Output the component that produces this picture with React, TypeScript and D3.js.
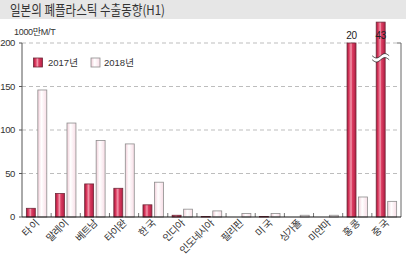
import React from "react";
import * as d3 from "d3";

const categories = ["타 이", "말레이", "베트남", "타이완", "한 국", "인디아", "인도네시아", "필리핀", "미 국", "싱가폴", "미얀마", "홍 콩", "중 국"];
const values2017 = [10, 27, 38, 33, 14, 2, 0.6, 0, 0.6, 0, 0, 200, 432];
const values2018 = [146, 108, 88, 84, 40, 9, 7, 4, 4, 2, 2, 23, 18];
const overLabels = ["", "", "", "", "", "", "", "", "", "", "", "20", "43"];
const yTicks = [0, 50, 100, 150, 200];
const seriesNames = ["2017년", "2018년"];
const title = "일본의 폐플라스틱 수출동향(H1)";
const unitLabel = "1000만M/T";
const displayMax = 224;

const W = 406;
const H = 265;
const m = { left: 22, right: 5, top: 43, bottom: 48 };

export default function App() {
  const x = d3.scaleBand<string>().domain(categories).range([m.left, W - m.right]).paddingInner(0).paddingOuter(0);
  const y = d3.scaleLinear().domain([0, 200]).range([H - m.bottom, m.top]);
  const sub = d3.scaleBand<string>().domain(["a", "b"]).range([0, x.bandwidth()]).paddingInner(0.22).paddingOuter(0.38);
  const bw = sub.bandwidth();
  const y0 = y(0);
  const font = "'Liberation Sans', Arial, 'Noto Sans CJK KR', sans-serif";
  const kfont = "'Noto Sans CJK KR', 'Liberation Sans', sans-serif";
  const chinaIdx = categories.length - 1;
  const chinaX = (x(categories[chinaIdx]) as number) + (sub("a") as number);
  const breakY = y(183);
  const wave = (off: number) => {
    const pts: [number, number][] = [];
    for (let i = 0; i <= 20; i++) {
      const px = chinaX - 4 + ((bw + 8) * i) / 20;
      pts.push([px, breakY + off + 2.2 * Math.sin((i / 20) * Math.PI * 2)]);
    }
    return pts;
  };
  const line = d3.line();
  const w1 = wave(-2);
  const w2 = wave(2);
  const band = line([...w1, ...w2.slice().reverse()]) + "Z";

  return (
    <svg width={W} height={H} style={{ position: "absolute", left: 0, top: 0, background: "#fff" }}>
      <defs>
        <linearGradient id="g17" x1="0" x2="1" y1="0" y2="0">
          <stop offset="0" stopColor="#a8173a" />
          <stop offset="0.2" stopColor="#d8345a" />
          <stop offset="0.45" stopColor="#f39aae" />
          <stop offset="0.6" stopColor="#dc3d62" />
          <stop offset="1" stopColor="#b01d42" />
        </linearGradient>
        <linearGradient id="g18" x1="0" x2="1" y1="0" y2="0">
          <stop offset="0" stopColor="#f3cfda" />
          <stop offset="0.4" stopColor="#ffffff" />
          <stop offset="1" stopColor="#f8dde6" />
        </linearGradient>
      </defs>
      <rect x={0} y={0} width={W} height={19} fill="#e6e6e6" />
      <text x={10} y={15} fontFamily={kfont} fontSize={13.5} fill="#333" textLength={155} lengthAdjust="spacingAndGlyphs">{title}</text>
      <text x={14} y={35} fontFamily={font} fontSize={9} fill="#333" letterSpacing={-0.3}>{unitLabel}</text>

      {yTicks.map((t) => (
        <g key={t}>
          {t > 0 && <line x1={m.left} x2={W - m.right - 4} y1={y(t)} y2={y(t)} stroke="#bdbdbd" strokeDasharray="4,3" />}
          <line x1={m.left - 3} x2={m.left} y1={y(t)} y2={y(t)} stroke="#555" />
          <text x={15} y={y(t) + 3} textAnchor="end" fontFamily={font} fontSize={9.5} fill="#333" letterSpacing={-0.4}>{t}</text>
        </g>
      ))}
      <line x1={m.left} x2={m.left} y1={m.top} y2={y0} stroke="#555" />
      <line x1={W - m.right} x2={W - m.right} y1={m.top} y2={y0} stroke="#666" />
      <line x1={W - m.right - 4} x2={W - m.right} y1={m.top} y2={m.top} stroke="#666" />

      {categories.map((c, i) => {
        const gx = x(c) as number;
        const v17 = Math.min(values2017[i], displayMax);
        const v18 = values2018[i];
        return (
          <g key={c}>
            {i > 0 && <line x1={gx} x2={gx} y1={y0 - 4} y2={y0} stroke="#777" />}
            {values2018[i] > 0 && (
              <rect x={gx + (sub("b") as number)} y={y(v18)} width={bw} height={y0 - y(v18)} fill="url(#g18)" stroke="#8d8d8d" strokeWidth={0.8} />
            )}
            {values2017[i] > 0 && (
              <rect x={gx + (sub("a") as number)} y={y(v17)} width={bw} height={y0 - y(v17)} fill="url(#g17)" stroke="#6e2a3a" strokeWidth={0.8} />
            )}
            {overLabels[i] && (
              <text x={gx + (sub("a") as number) + bw / 2} y={Math.max(y(Math.min(values2017[i], 200)) - 4, 38)} textAnchor="middle" fontFamily={font} fontSize={10} fill="#222" letterSpacing={-0.3}>{overLabels[i]}</text>
            )}
            <text transform={`translate(${gx + x.bandwidth() / 2 + 3},${y0 + 7}) rotate(-45)`} textAnchor="end" fontFamily={kfont} fontSize={10} fill="#333" letterSpacing={-0.6}>{c}</text>
          </g>
        );
      })}
      <path d={band} fill="#fff" stroke="none" />
      <path d={line(w1) as string} fill="none" stroke="#222" strokeWidth={0.8} />
      <path d={line(w2) as string} fill="none" stroke="#222" strokeWidth={0.8} />
      <line x1={m.left} x2={W - m.right} y1={y0} y2={y0} stroke="#111" strokeWidth={1.2} />

      <rect x={33.5} y={58} width={9} height={9} fill="url(#g17)" stroke="#6e2a3a" strokeWidth={0.8} />
      <text x={48} y={66} fontFamily={font} fontSize={9.5} fill="#333">{seriesNames[0]}</text>
      <rect x={91} y={58} width={9} height={9} fill="url(#g18)" stroke="#8d8d8d" strokeWidth={0.8} />
      <text x={104} y={66} fontFamily={font} fontSize={9.5} fill="#333">{seriesNames[1]}</text>
    </svg>
  );
}
